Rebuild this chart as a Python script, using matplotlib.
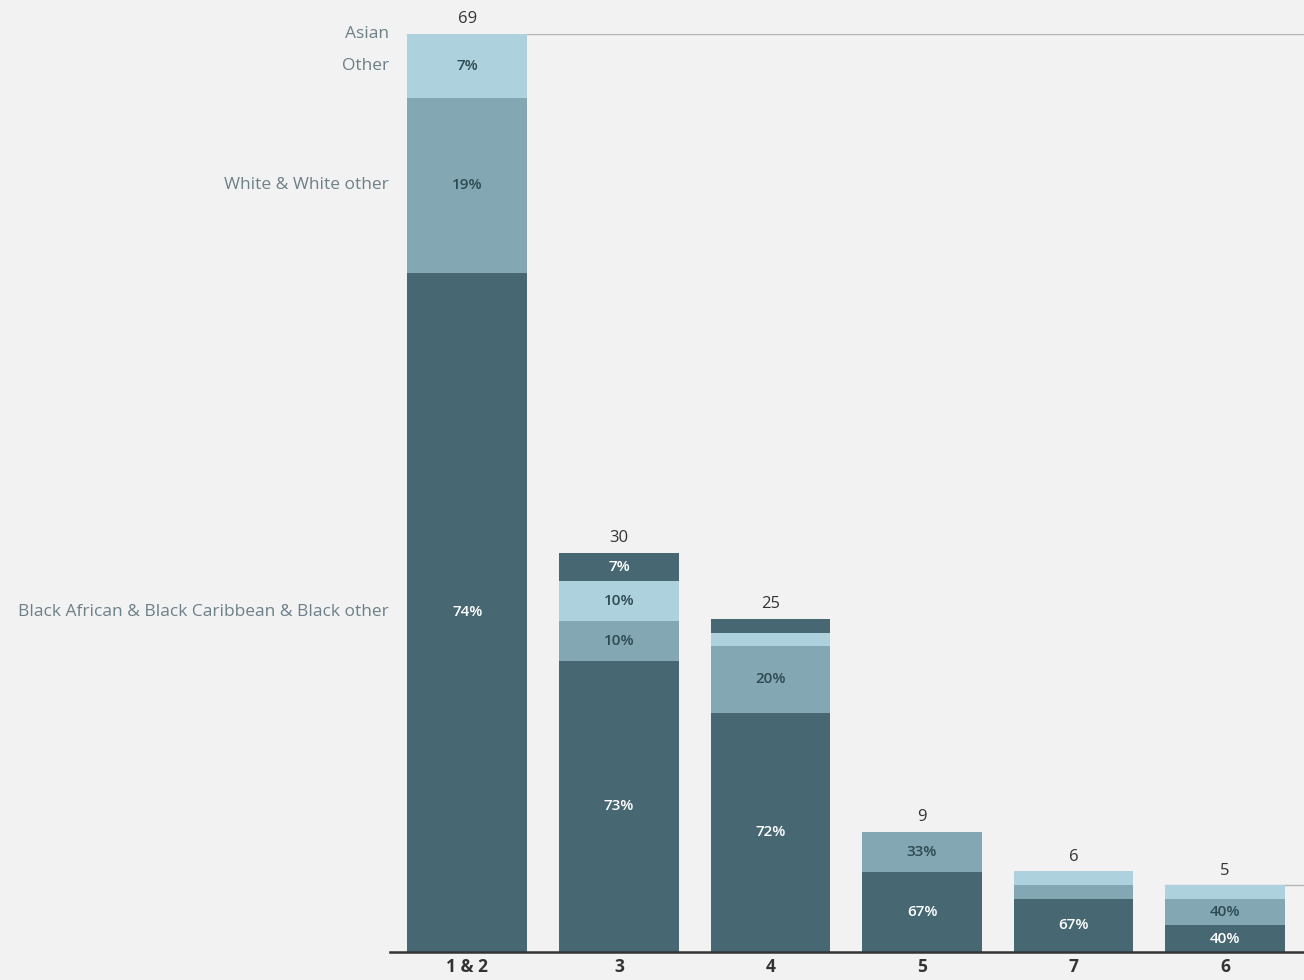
import matplotlib.pyplot as plt
import numpy as np

plt.rcParams['font.family'] = ['Open Sans', 'DejaVu Sans']

# data
categories = ['1 & 2', '3', '4', '5', '7', '6']
totals = [69, 30, 25, 9, 6, 5]
groups = ['Black African & Black Caribbean & Black other', 'White & White other', 'Other', 'Asian']
black = [74, 73, 72, 67, 67, 40]
white = [19, 10, 20, 33, 17, 40]
other = [7, 10, 4, 0, 17, 20]
asian = [0, 7, 4, 0, 0, 0]

shares = [black, white, other, asian]
colors = ['#476873', '#83a8b3', '#add1dd', '#476873']
txt_colors = ['white', '#2e4a52', '#2e4a52', 'white']
bg = '#f2f2f2'
label_col = '#6d8088'

fig = plt.figure(figsize=(13.04, 9.8), dpi=100, facecolor=bg)
ax = fig.add_axes([390 / 1304, 28 / 980, 1 - 390 / 1304, (952 - 34) / 980])
ax.set_facecolor(bg)

x = np.arange(len(categories))
w = 0.79
bottom = np.zeros(len(categories))
tot = np.array(totals, dtype=float)
seg_centers = []
for s, c, tc in zip(shares, colors, txt_colors):
    h = tot * np.array(s) / 100.0
    ax.bar(x, h, w, bottom=bottom, color=c, zorder=3)
    for i in range(len(x)):
        if h[i] >= 1.5:
            ax.text(x[i], bottom[i] + h[i] / 2, '%d%%' % s[i], ha='center', va='center',
                    color=tc, fontsize=11, fontweight='semibold', zorder=4)
    seg_centers.append(bottom[0] + h[0] / 2)
    bottom = bottom + h

# totals above bars
for i in range(len(x)):
    ax.annotate(str(totals[i]), (x[i], totals[i]), xytext=(0, 5), textcoords='offset points',
                ha='center', va='bottom', fontsize=12, color='#333333')

# group labels beside the first bar
for g, yc in zip(groups, seg_centers):
    ax.annotate(g, (-0.5, yc), xytext=(-2, 0), textcoords='offset points', ha='right',
                va='center', fontsize=12.5, color=label_col, annotation_clip=False)

# thin reference lines at first and last total
ax.plot([x[0] - w / 2, 5.52], [totals[0], totals[0]], color='#b5b5b5', lw=1, zorder=1)
ax.plot([x[-1] - w / 2, 5.52], [totals[-1], totals[-1]], color='#b5b5b5', lw=1, zorder=1)

ax.set_xlim(-0.51, 5.52)
ax.set_ylim(0, 69)
ax.set_xticks(x)
ax.set_xticklabels(categories, fontsize=12.5, fontweight='bold', color='#333333')
ax.tick_params(axis='x', length=0, pad=4)
ax.set_yticks([])
for sp in ['top', 'right', 'left']:
    ax.spines[sp].set_visible(False)
ax.spines['bottom'].set_color('#333333')
ax.spines['bottom'].set_linewidth(1.8)
ax.spines['bottom'].set_zorder(5)

fig.savefig('out.png', dpi=100, facecolor=bg)
